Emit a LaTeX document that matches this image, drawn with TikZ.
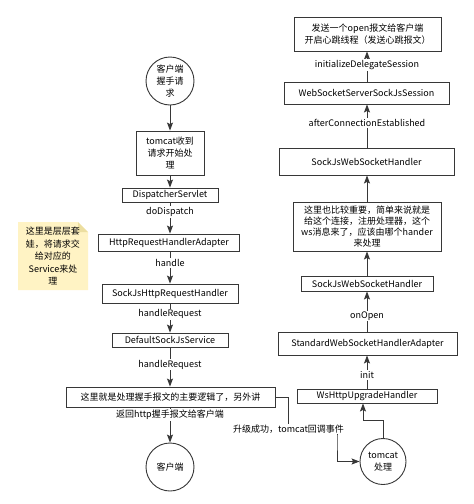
\documentclass[tikz,border=0pt]{standalone}
\usepackage{fontspec}
\setmainfont{Noto Sans CJK SC}
\usetikzlibrary{arrows.meta}
\definecolor{notefill}{RGB}{255,243,196}
\definecolor{notefold}{RGB}{236,222,160}
\definecolor{ln}{RGB}{55,55,55}
\begin{document}
\begin{tikzpicture}[x=1pt,y=-1pt,
 fnt/.style={font=\fontsize{9}{12}\selectfont},
 box/.style={draw=ln, line width=0.9pt, fill=white, inner sep=0pt, align=center, fnt},
 circ/.style={circle, draw=ln, line width=0.9pt, fill=white, inner sep=0pt, align=center, minimum size=48pt, fnt},
 lbl/.style={fill=white, inner sep=1pt, fnt},
 arr/.style={draw=ln, line width=0.9pt, -{Stealth[length=8pt,width=6pt,inset=1.5pt]}}]
\useasboundingbox[fill=white] (0,0) rectangle (474,504);

% left column
\node[circ] (c1) at (170,81) {客户端\\握手请\\求};
\node[box, minimum width=68pt, minimum height=44pt] (b1) at (170,153) {tomcat收到\\请求开始处\\理};
\node[box, minimum width=96pt, minimum height=14pt] (b2) at (170,195) {DispatcherServlet};
\node[box, minimum width=141pt, minimum height=17pt] (b3) at (169,242.5) {HttpRequestHandlerAdapter};
\node[box, minimum width=136pt, minimum height=19pt] (b4) at (170,293.5) {SockJsHttpRequestHandler};
\node[box, minimum width=116pt, minimum height=14pt] (b5) at (170,340) {DefaultSockJsService};
\node[box, minimum width=209pt, minimum height=20pt] (b6) at (170.5,397) {这里就是处理握手报文的主要逻辑了，另外讲};
\node[circ] (c2) at (170,467) {客户端};

% note
\fill[notefill] (18,222) -- (78,222) -- (88,232) -- (88,290) -- (18,290) -- cycle;
\fill[notefold] (78,222) -- (78,232) -- (88,232) -- cycle;
\node[align=center, font=\fontsize{9}{12.5}\selectfont] (n1) at (53,256) {这里是层层套\\娃，将请求交\\给对应的\\Service来处\\理};

% right column
\node[box, minimum width=147pt, minimum height=34pt] (r1) at (367.5,34) {发送一个open报文给客户端\\开启心跳线程（发送心跳报文）};
\node[box, minimum width=165pt, minimum height=22pt] (r2) at (366.5,93) {WebSocketServerSockJsSession};
\node[box, minimum width=175pt, minimum height=27pt] (r3) at (366.5,161.5) {SockJsWebSocketHandler};
\node[box, minimum width=148pt, minimum height=49pt, font=\fontsize{9}{11}\selectfont] (r4) at (367,226.5) {这里也比较重要，简单来说就是\\给这个连接，注册处理器，这个\\ws消息来了，应该由哪个hander\\来处理};
\node[box, minimum width=132pt, minimum height=15pt] (r5) at (367,283.5) {SockJsWebSocketHandler};
\node[box, minimum width=179pt, minimum height=23pt] (r6) at (367.5,343.5) {StandardWebSocketHandlerAdapter};
\node[box, minimum width=140pt, minimum height=14pt] (r7) at (367,396) {WsHttpUpgradeHandler};
\node[circ, minimum size=46pt] (c3) at (383,461.5) {tomcat\\处理};

% left edges
\draw[arr] (c1.south) -- (c1.south |- b1.north);
\draw[arr] (b1.south) -- (b1.south |- b2.north);
\draw[arr] (b2.south) -- node[lbl, pos=.31] {doDispatch} (b2.south |- b3.north);
\draw[arr] (b3.south -| b2.south) -- node[lbl, pos=.36] {handle} (b2.south |- b4.north);
\draw[arr] (b4.south) -- node[lbl, pos=.37] {handleRequest} (b4.south |- b5.north);
\draw[arr] (b5.south) -- node[lbl, pos=.44] {handleRequest} (b5.south |- b6.north);
\draw[arr] (b5.south |- b6.south) -- node[lbl, pos=.22] {返回http握手报文给客户端} (c2.north);

% right edges
\draw[arr] (r7.north) -- node[lbl, pos=.41] {init} (r7.north |- r6.south);
\draw[arr] (r7.north |- r6.north) -- node[lbl, pos=.39] {onOpen} (r7.north |- r5.south);
\draw[arr] (r5.north) -- (r5.north |- r4.south);
\draw[arr] (r4.north) -- (r4.north |- r3.south);
\draw[arr] (r4.north |- r3.north) -- node[lbl, pos=.57] {afterConnectionEstablished} (r4.north |- r2.south);
\draw[arr] (r4.north |- r2.north) -- node[lbl, pos=.55] {initializeDelegateSession} (r4.north |- r1.south);

% upgrade path
\coordinate (u1) at (288,429);
\coordinate (u2) at (337,440);
\draw[arr] (b6.east) -| (u1) -| (u2) |- (c3.west);
\node[lbl] (ul) at (288.5,429) {升级成功，tomcat回调事件};

\coordinate (k1) at (363,420);
\draw[arr] (c3.north) |- (k1) -- (k1 |- r7.south);
\end{tikzpicture}
\end{document}
